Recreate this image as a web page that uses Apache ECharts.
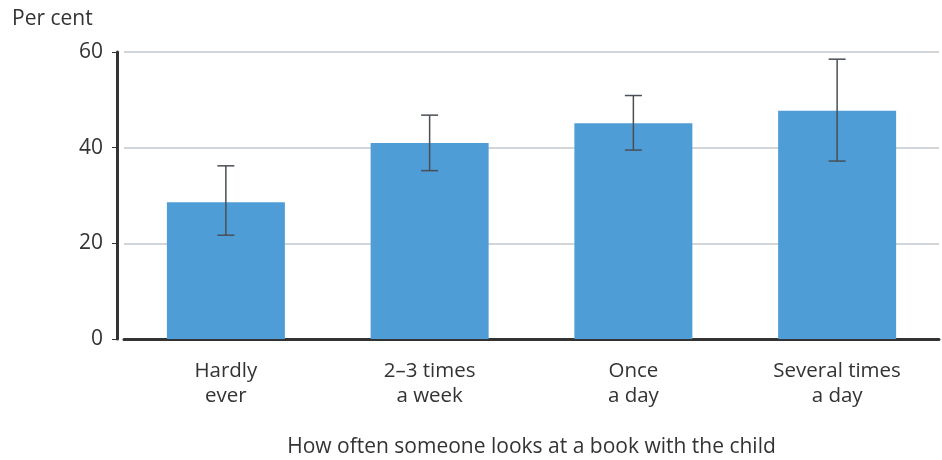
<!DOCTYPE html>
<html><head><meta charset="utf-8">
<script src="https://cdn.jsdelivr.net/npm/echarts@6/dist/echarts.min.js"></script>
<style>html,body{margin:0;padding:0;background:#fff}#c{width:942px;height:460px}</style>
</head><body><div id="c"></div>
<script>
var categories = ['Hardly\never', '2–3 times\na week', 'Once\na day', 'Several times\na day'];
var values = [28.6, 41.0, 45.1, 47.7];
var errLow = [21.7, 35.2, 39.5, 37.2];
var errHigh = [36.2, 46.8, 50.9, 58.5];
var yTicks = [0, 20, 40, 60];

var chart = echarts.init(document.getElementById('c'));
var font = 'Open Sans';
chart.setOption({
  animation: false,
  grid: {left: 124, right: 3, top: 52, bottom: 121, containLabel: false, outerBoundsMode: 'none'},
  graphic: [{type: 'text', left: 12, top: 9, style: {text: 'Per cent', font: '21px "Open Sans"', fill: '#333'}}],
  xAxis: {
    type: 'category', data: categories,
    name: 'How often someone looks at a book with the child',
    nameLocation: 'middle', nameGap: 98,
    nameTextStyle: {fontFamily: font, fontSize: 21, color: '#333'},
    axisLine: {lineStyle: {color: '#333', width: 3}},
    axisTick: {show: false},
    axisLabel: {fontFamily: font, fontSize: 20.5, color: '#333', margin: 20, lineHeight: 25}
  },
  yAxis: {
    type: 'value', min: 0, max: 60, interval: 20, offset: 7,
    axisLine: {show: true, lineStyle: {color: '#333', width: 3}},
    axisTick: {show: true, length: 5, lineStyle: {color: '#333', width: 1}},
    axisLabel: {fontFamily: font, fontSize: 21, color: '#333', margin: 14,
      formatter: function (v) { return yTicks.indexOf(v) >= 0 ? String(v) : ''; }},
    splitLine: {lineStyle: {color: '#d3d6d9', width: 2}}
  },
  series: [{
    type: 'bar', data: values, barWidth: 118,
    itemStyle: {color: '#4f9dd7'}
  }, {
    type: 'custom',
    data: categories.map(function (c, i) { return [i, errLow[i], errHigh[i]]; }),
    renderItem: function (params, api) {
      var lo = api.coord([api.value(0), api.value(1)]);
      var hi = api.coord([api.value(0), api.value(2)]);
      var hw = 8.5;
      var st = {stroke: '#4a4f55', lineWidth: 1.5};
      return {type: 'group', children: [
        {type: 'line', shape: {x1: hi[0], y1: hi[1], x2: lo[0], y2: lo[1]}, style: st},
        {type: 'line', shape: {x1: hi[0]-hw, y1: hi[1], x2: hi[0]+hw, y2: hi[1]}, style: st},
        {type: 'line', shape: {x1: lo[0]-hw, y1: lo[1], x2: lo[0]+hw, y2: lo[1]}, style: st}
      ]};
    },
    z: 10
  }]
});
</script></body></html>
